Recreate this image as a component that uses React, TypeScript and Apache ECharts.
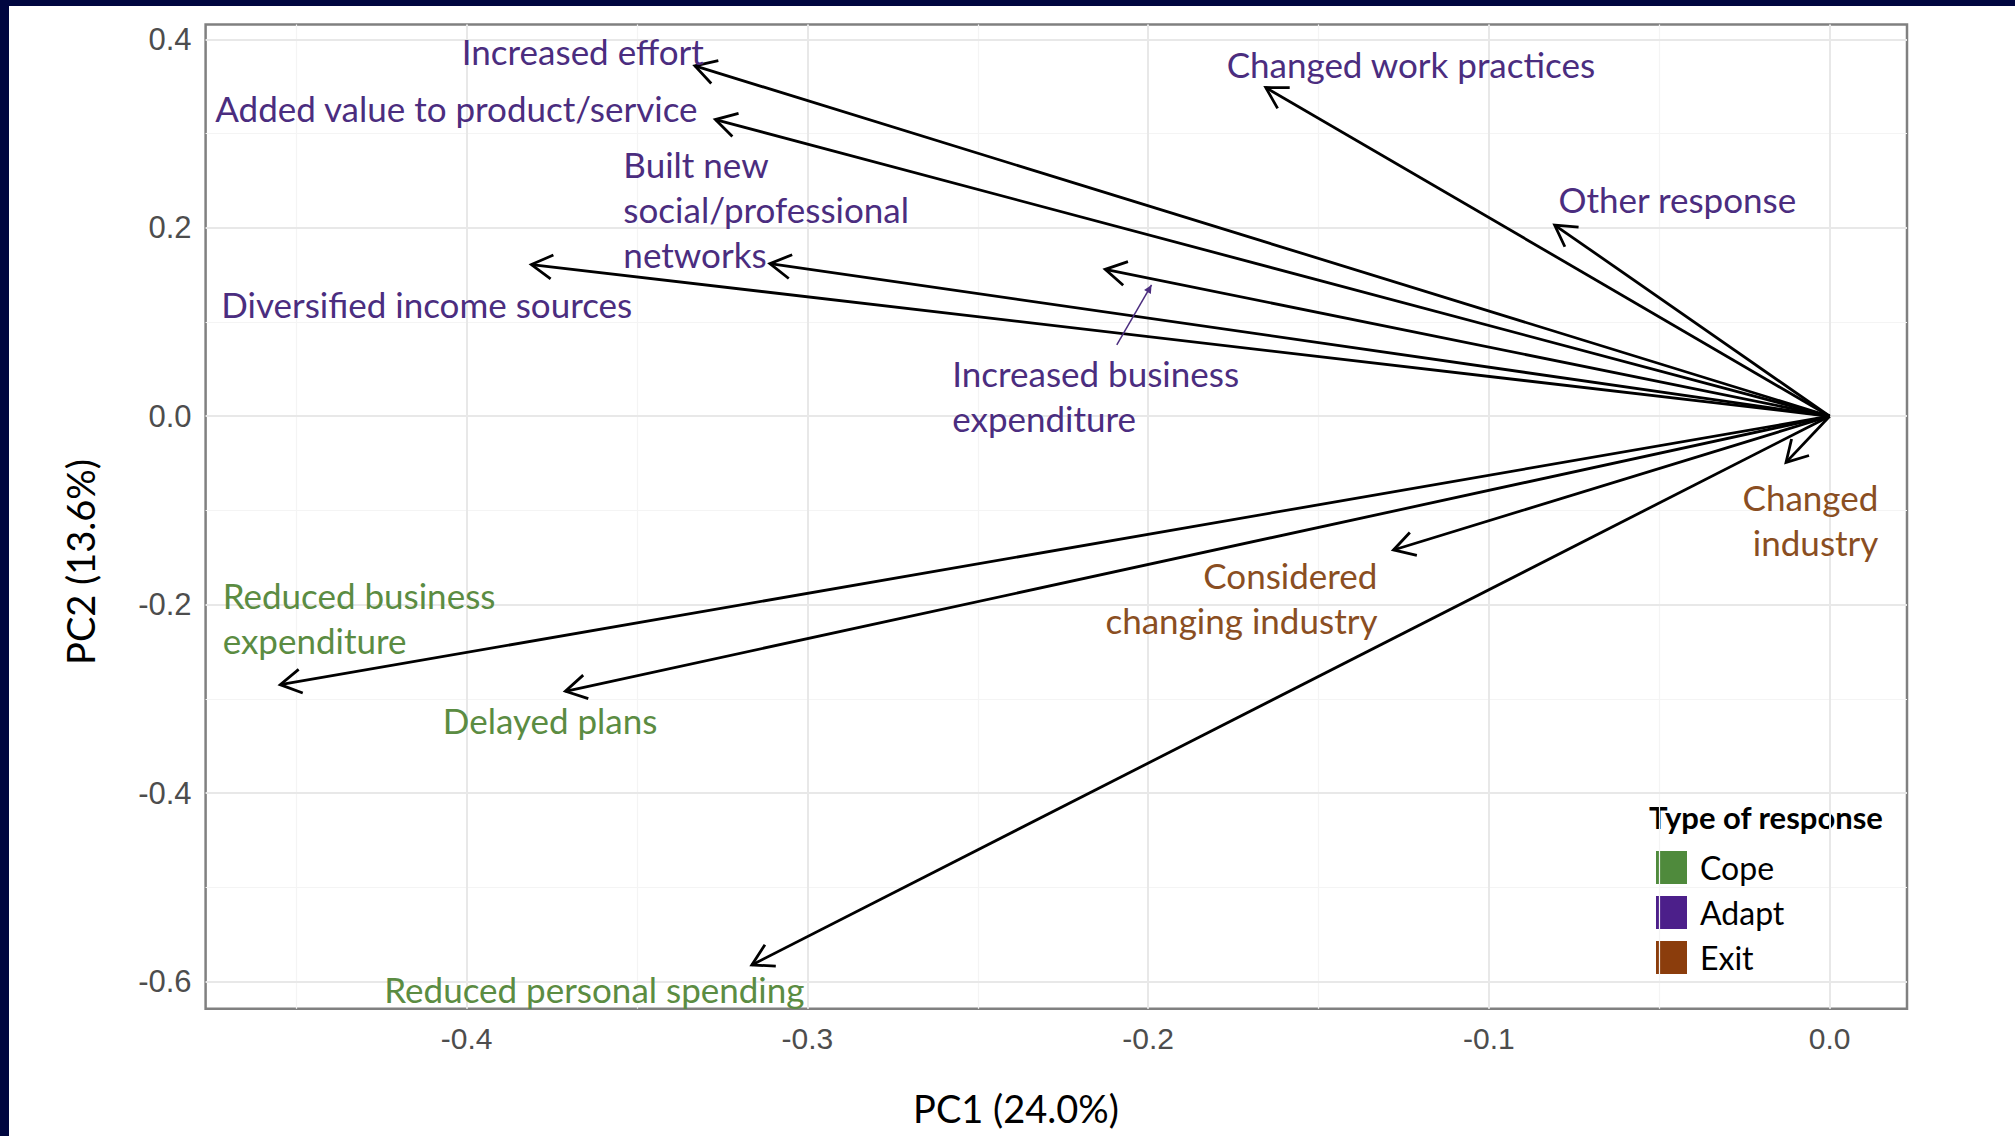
import React, { useEffect, useRef } from "react";
import * as echarts from "echarts";

// ---- data ----
const responses = [
  "Increased effort",
  "Added value to product/service",
  "Built new social/professional networks",
  "Diversified income sources",
  "Increased business expenditure",
  "Changed work practices",
  "Other response",
  "Changed industry",
  "Considered changing industry",
  "Reduced business expenditure",
  "Delayed plans",
  "Reduced personal spending",
];
const responseType = [
  "Adapt", "Adapt", "Adapt", "Adapt", "Adapt", "Adapt", "Adapt",
  "Exit", "Exit",
  "Cope", "Cope", "Cope",
];
const pc1 = [-0.333, -0.327, -0.311, -0.381, -0.2126, -0.1655, -0.0807, -0.0128, -0.128, -0.4547, -0.371, -0.3163];
const pc2 = [0.372, 0.315, 0.162, 0.161, 0.156, 0.349, 0.203, -0.049, -0.142, -0.285, -0.292, -0.5825];

// label texts and anchors (data coordinates)
const labelText = [
  "Increased effort",
  "Added value to product/service",
  "Built new\nsocial/professional\nnetworks",
  "Diversified income sources",
  "Increased business\nexpenditure",
  "Changed work practices",
  "Other response",
  "Changed\nindustry",
  "Considered\nchanging industry",
  "Reduced business\nexpenditure",
  "Delayed plans",
  "Reduced personal spending",
];
const labelX = [-0.3659, -0.403, -0.354, -0.4117, -0.2575, -0.1229, -0.0447, 0.0143, -0.1327, -0.4716, -0.3755, -0.3625];
const labelY = [0.3874, 0.3274, 0.2196, 0.1187, 0.0225, 0.3738, 0.2306, -0.1098, -0.1924, -0.2135, -0.322, -0.6085];
const labelAlign = ["center", "center", "left", "center", "left", "center", "center", "right", "right", "left", "center", "center"];

// pointer from "Increased business expenditure" label to its arrow
const pointerFrom = [-0.2092, 0.0757];
const pointerTo = [-0.199, 0.1394];

const typeNames = ["Cope", "Adapt", "Exit"];
const xTicks = [-0.4, -0.3, -0.2, -0.1, 0.0];
const xMinor = [-0.45, -0.35, -0.25, -0.15, -0.05];
const yTicks = [0.4, 0.2, 0.0, -0.2, -0.4, -0.6];
const yMinor = [0.3, 0.1, -0.1, -0.3, -0.5];
const xTitle = "PC1 (24.0%)";
const yTitle = "PC2 (13.6%)";
const legendTitle = "Type of response";

// ---- styles ----
const textColor: Record<string, string> = { Cope: "#5B8C42", Adapt: "#4B2D7F", Exit: "#8A4E22" };
const keyColor: Record<string, string> = { Cope: "#4F8A3C", Adapt: "#4C1F8A", Exit: "#8B3D0C" };
const LABEL_FONT = "Lato";

export default function App() {
  const ref = useRef<HTMLDivElement>(null);
  useEffect(() => {
    if (!ref.current) return;
    const chart = echarts.init(ref.current, undefined, { renderer: "svg" });

    const arrowData = pc1.map((x, i) => [x, pc2[i]]);
    const labelData = labelX.map((x, i) => [x, labelY[i], i]);

    const gridLines = (vals: number[], axis: "xAxis" | "yAxis", color: string, w: number) =>
      vals.map((v) => ({ [axis]: v, lineStyle: { color, width: w, type: "solid" } }));

    const option: any = {
      animation: false,
      backgroundColor: "#FFFFFF",
      grid: {
        left: 205.6,
        right: 108,
        top: 24.4,
        bottom: 127.3,
        show: true,
        borderColor: "#808080",
        borderWidth: 2.5,
        backgroundColor: "transparent",
        containLabel: false,
      },
      xAxis: {
        type: "value",
        min: -0.4766,
        max: 0.0227,
        axisLine: { show: false },
        splitLine: { show: false },
        axisTick: { show: true, customValues: xTicks, length: 6, lineStyle: { color: "#808080", width: 2 } },
        axisLabel: {
          customValues: xTicks,
          formatter: (v: number) => v.toFixed(1),
          color: "#4D4D4D",
          fontFamily: "Liberation Sans",
          fontSize: 30,
          margin: 15,
        },
      },
      yAxis: {
        type: "value",
        min: -0.629,
        max: 0.416,
        axisLine: { show: false },
        splitLine: { show: false },
        axisTick: { show: true, customValues: yTicks, length: 6, lineStyle: { color: "#808080", width: 2 } },
        axisLabel: {
          customValues: yTicks,
          formatter: (v: number) => v.toFixed(1),
          color: "#4D4D4D",
          fontFamily: "Liberation Sans",
          fontSize: 31,
          margin: 14,
        },
      },
      legend: {
        orient: "vertical",
        left: 1651,
        top: 846,
        itemWidth: 31,
        itemHeight: 33,
        itemGap: 12,
        icon: "rect",
        selectedMode: false,
        data: typeNames,
        textStyle: { fontFamily: LABEL_FONT, fontSize: 32, color: "#000", padding: [0, 0, 0, 8] },
      },
      graphic: [
        { type: "rect", shape: { x: 0, y: 0, width: 2015, height: 6 }, style: { fill: "#000640" }, z: 100 },
        { type: "rect", shape: { x: 0, y: 0, width: 9, height: 1136 }, style: { fill: "#000640" }, z: 100 },
        {
          type: "text", x: 1016, y: 1108,
          style: { text: xTitle, fill: "#000", font: `38px ${LABEL_FONT}`, align: "center", verticalAlign: "middle" },
        },
        {
          type: "text", x: 80, y: 562, rotation: Math.PI / 2,
          style: { text: yTitle, fill: "#000", font: `38px ${LABEL_FONT}`, align: "center", verticalAlign: "middle" },
        },
        {
          type: "text", x: 1649, y: 817,
          style: { text: legendTitle, fill: "#000", font: `bold 31px ${LABEL_FONT}`, align: "left", verticalAlign: "middle" },
        },
      ],
      series: [
        {
          type: "scatter",
          data: [[0, 0]],
          symbolSize: 0,
          silent: true,
          z: 1,
          markLine: {
            silent: true,
            symbol: ["none", "none"],
            label: { show: false },
            animation: false,
            data: [
              ...gridLines(xMinor, "xAxis", "#F4F4F4", 1.2),
              ...gridLines(yMinor, "yAxis", "#F4F4F4", 1.2),
              ...gridLines(xTicks, "xAxis", "#E8E8E8", 2),
              ...gridLines(yTicks, "yAxis", "#E8E8E8", 2),
            ],
          },
        },
        ...typeNames.map((t) => ({
          name: t,
          type: "scatter",
          data: [],
          itemStyle: { color: keyColor[t], opacity: 1, borderWidth: 0 },
        })),
        {
          type: "custom",
          name: "arrows",
          data: arrowData,
          encode: { x: 0, y: 1 },
          clip: false,
          z: 5,
          renderItem: (params: any, api: any) => {
            const o = api.coord([0, 0]);
            const t = api.coord([api.value(0), api.value(1)]);
            const ang = Math.atan2(t[1] - o[1], t[0] - o[0]);
            const L = 24;
            const a = Math.PI / 6;
            const h1 = [t[0] - L * Math.cos(ang - a), t[1] - L * Math.sin(ang - a)];
            const h2 = [t[0] - L * Math.cos(ang + a), t[1] - L * Math.sin(ang + a)];
            return {
              type: "group",
              children: [
                { type: "line", shape: { x1: o[0], y1: o[1], x2: t[0], y2: t[1] }, style: { stroke: "#000", lineWidth: 2.8 } },
                { type: "polyline", shape: { points: [h1, t, h2] }, style: { stroke: "#000", lineWidth: 2.8, fill: null } },
              ],
            };
          },
        },
        {
          type: "custom",
          name: "pointer",
          data: [[pointerFrom[0], pointerFrom[1], pointerTo[0], pointerTo[1]]],
          encode: { x: 0, y: 1 },
          clip: false,
          z: 6,
          renderItem: (params: any, api: any) => {
            const f = api.coord([api.value(0), api.value(1)]);
            const t = api.coord([api.value(2), api.value(3)]);
            const ang = Math.atan2(t[1] - f[1], t[0] - f[0]);
            const L = 9;
            const a = Math.PI / 7;
            const h1 = [t[0] - L * Math.cos(ang - a), t[1] - L * Math.sin(ang - a)];
            const h2 = [t[0] - L * Math.cos(ang + a), t[1] - L * Math.sin(ang + a)];
            const c = textColor.Adapt;
            return {
              type: "group",
              children: [
                { type: "line", shape: { x1: f[0], y1: f[1], x2: t[0], y2: t[1] }, style: { stroke: c, lineWidth: 1.5 } },
                { type: "polygon", shape: { points: [h1, t, h2] }, style: { fill: c } },
              ],
            };
          },
        },
        {
          type: "custom",
          name: "labels",
          data: labelData,
          encode: { x: 0, y: 1 },
          clip: false,
          z: 7,
          renderItem: (params: any, api: any) => {
            const i = api.value(2);
            const p = api.coord([api.value(0), api.value(1)]);
            return {
              type: "text",
              x: p[0],
              y: p[1],
              style: {
                text: labelText[i],
                fill: textColor[responseType[i]],
                fontFamily: LABEL_FONT,
                fontSize: 35,
                lineHeight: 45,
                align: labelAlign[i],
                verticalAlign: "middle",
              },
            };
          },
        },
      ],
    };
    chart.setOption(option);
    return () => chart.dispose();
  }, []);

  return (
    <div
      ref={ref}
      style={{ position: "fixed", left: 0, top: 0, width: 2015, height: 1136, background: "#fff" }}
    />
  );
}
